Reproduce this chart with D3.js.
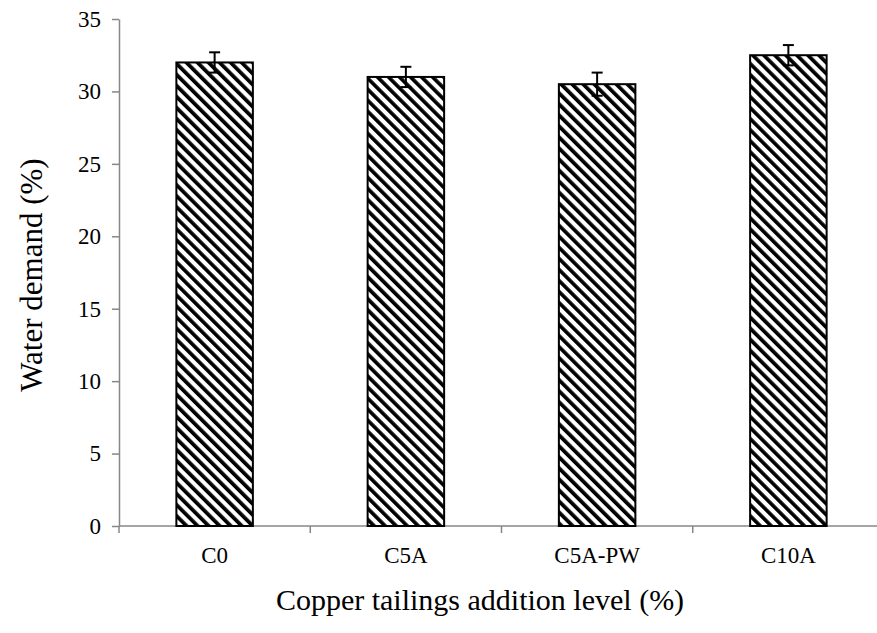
<!DOCTYPE html>
<html>
<head>
<meta charset="utf-8">
<script src="https://cdn.jsdelivr.net/npm/d3@7"></script>
<style>
  body { margin: 0; background: #fff; }
  text { font-family: "Liberation Serif", "Times New Roman", serif; fill: #000; }
</style>
</head>
<body>
<script>
// data
var categories = ["C0", "C5A", "C5A-PW", "C10A"];
var waterDemand = [32.0, 31.0, 30.5, 32.5];
var errors = [0.7, 0.7, 0.8, 0.7];
var yTicks = [0, 5, 10, 15, 20, 25, 30, 35];

var w = 877, h = 633;
var plotLeft = 119, plotRight = 884, plotTop = 19, plotBottom = 526;

var svg = d3.select("body").append("svg")
  .attr("width", w)
  .attr("height", h);

// hatch pattern (wide downward diagonal)
var defs = svg.append("defs");
var pat = defs.append("pattern")
  .attr("id", "hatch")
  .attr("patternUnits", "userSpaceOnUse")
  .attr("width", 7.8)
  .attr("height", 10)
  .attr("patternTransform", "rotate(-45)");
pat.append("rect").attr("width", 7.8).attr("height", 10).attr("fill", "#fff");
pat.append("rect").attr("x", 0).attr("width", 3.7).attr("height", 10).attr("fill", "#000");

var x = d3.scaleBand()
  .domain(categories)
  .range([plotLeft, plotRight])
  .paddingInner(0.6)
  .paddingOuter(0.3);

var y = d3.scaleLinear()
  .domain([0, 35])
  .range([plotBottom, plotTop]);

// y axis
var yAxis = svg.append("g")
  .attr("transform", "translate(" + plotLeft + ",0)")
  .call(d3.axisLeft(y).tickValues(yTicks).tickSize(7).tickSizeOuter(0).tickPadding(11));
yAxis.select(".domain").attr("stroke", "#878787").attr("stroke-width", 1.5);
yAxis.selectAll(".tick line").attr("stroke", "#878787").attr("stroke-width", 1.5);
yAxis.selectAll(".tick text").style("font-size", "23px").attr("fill", "#000");

// x axis: line plus tick marks on category boundaries
var boundaries = d3.range(categories.length + 1).map(function(i) { return plotLeft + i * (plotRight - plotLeft) / categories.length; });
svg.append("line")
  .attr("x1", plotLeft).attr("x2", plotRight)
  .attr("y1", plotBottom).attr("y2", plotBottom)
  .attr("stroke", "#878787").attr("stroke-width", 1.5);
svg.selectAll(".xtick")
  .data(boundaries)
  .enter().append("line")
  .attr("class", "xtick")
  .attr("x1", d => d).attr("x2", d => d)
  .attr("y1", plotBottom).attr("y2", plotBottom + 7)
  .attr("stroke", "#878787").attr("stroke-width", 1.5);

svg.selectAll(".xlabel")
  .data(categories)
  .enter().append("text")
  .attr("class", "xlabel")
  .attr("x", d => x(d) + x.bandwidth() / 2)
  .attr("y", 563)
  .attr("text-anchor", "middle")
  .style("font-size", "23px")
  .text(d => d);

// bars
svg.selectAll(".bar")
  .data(categories)
  .enter().append("rect")
  .attr("class", "bar")
  .attr("x", d => x(d))
  .attr("width", x.bandwidth())
  .attr("y", (d, i) => y(waterDemand[i]))
  .attr("height", (d, i) => y(0) - y(waterDemand[i]))
  .attr("fill", "url(#hatch)")
  .attr("stroke", "#000")
  .attr("stroke-width", 2);

// error bars
var eb = svg.selectAll(".err")
  .data(categories)
  .enter().append("g")
  .attr("class", "err")
  .attr("stroke", "#000")
  .attr("stroke-width", 2);
eb.append("line")
  .attr("x1", d => x(d) + x.bandwidth() / 2)
  .attr("x2", d => x(d) + x.bandwidth() / 2)
  .attr("y1", (d, i) => y(waterDemand[i] + errors[i]))
  .attr("y2", (d, i) => y(waterDemand[i] - errors[i]));
eb.append("line")
  .attr("x1", d => x(d) + x.bandwidth() / 2 - 5.5)
  .attr("x2", d => x(d) + x.bandwidth() / 2 + 5.5)
  .attr("y1", (d, i) => y(waterDemand[i] + errors[i]))
  .attr("y2", (d, i) => y(waterDemand[i] + errors[i]));
eb.append("line")
  .attr("x1", d => x(d) + x.bandwidth() / 2 - 5.5)
  .attr("x2", d => x(d) + x.bandwidth() / 2 + 5.5)
  .attr("y1", (d, i) => y(waterDemand[i] - errors[i]))
  .attr("y2", (d, i) => y(waterDemand[i] - errors[i]));

// axis titles
svg.append("text")
  .attr("transform", "translate(42,275) rotate(-90)")
  .attr("text-anchor", "middle")
  .style("font-size", "31px")
  .text("Water demand (%)");

svg.append("text")
  .attr("x", 480)
  .attr("y", 610)
  .attr("text-anchor", "middle")
  .style("font-size", "30px")
  .text("Copper tailings addition level (%)");
</script>
</body>
</html>
